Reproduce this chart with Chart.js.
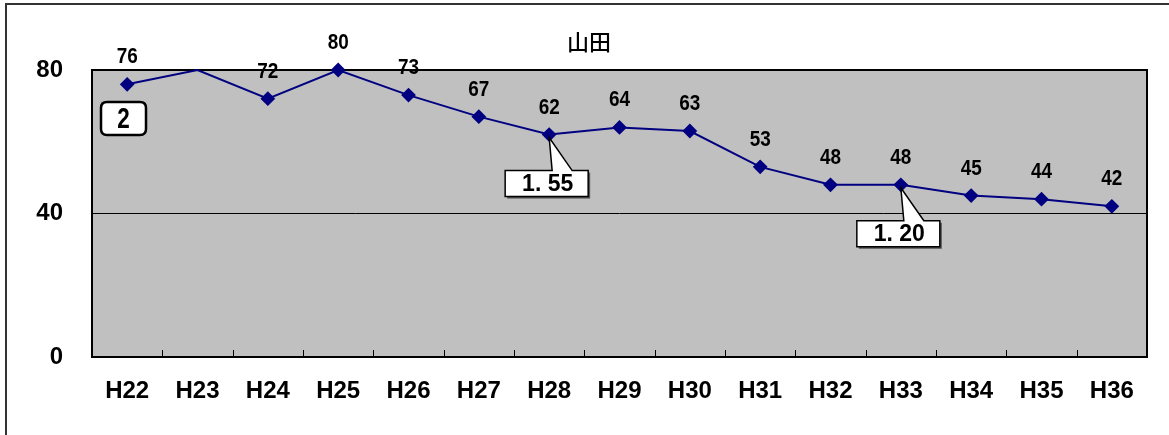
<!DOCTYPE html>
<html>
<head>
<meta charset="utf-8">
<script src="https://cdn.jsdelivr.net/npm/chart.js@4.4.1/dist/chart.umd.min.js"></script>
<style>
  html, body { margin: 0; padding: 0; background: #ffffff; }
  #wrap { position: relative; width: 1169px; height: 435px; }
  canvas { display: block; }
</style>
</head>
<body>
<div id="wrap"><canvas id="c" width="1169" height="435"></canvas></div>
<script>
// ---- data ----
const chartTitle = '山田';
const categories = ['H22','H23','H24','H25','H26','H27','H28','H29','H30','H31','H32','H33','H34','H35','H36'];
const values = [76, 80, 72, 80, 73, 67, 62, 64, 63, 53, 48, 48, 45, 44, 42];
const pointLabels = ['76','','72','80','73','67','62','64','63','53','48','48','45','44','42'];
const hiddenMarkers = [1];
const yTicks = [0, 40, 80];
const calloutIndex = [6, 11];
const calloutText = ['1. 55', '1. 20'];
const badgeText = '2';

const NAVY = '#000080';

function narrowText(ctx, text, x, y, sx) {
  ctx.save();
  ctx.translate(x, y);
  ctx.scale(sx, 1);
  ctx.fillText(text, 0, 0);
  ctx.restore();
}

const framePlugin = {
  id: 'frame',
  beforeDraw(chart) {
    const ctx = chart.ctx;
    const a = chart.chartArea;
    ctx.save();
    ctx.strokeStyle = '#333333';
    ctx.lineWidth = 2;
    ctx.beginPath();
    ctx.moveTo(6, 440);
    ctx.lineTo(6, 4);
    ctx.lineTo(1175, 4);
    ctx.stroke();
    ctx.fillStyle = '#C0C0C0';
    ctx.fillRect(a.left, a.top, a.right - a.left, a.bottom - a.top);
    ctx.restore();
  },
  beforeDatasetsDraw(chart) {
    const ctx = chart.ctx;
    const a = chart.chartArea;
    const xs = chart.scales.x;
    ctx.save();
    ctx.strokeStyle = '#000000';
    ctx.lineWidth = 2;
    ctx.strokeRect(a.left, a.top, a.right - a.left, a.bottom - a.top);
    ctx.lineWidth = 1;
    const step = xs.getPixelForValue(1) - xs.getPixelForValue(0);
    for (let i = 1; i < categories.length; i++) {
      const x = Math.round(xs.getPixelForValue(i) - step / 2) + 0.5;
      ctx.beginPath();
      ctx.moveTo(x, a.bottom);
      ctx.lineTo(x, a.bottom - 7);
      ctx.stroke();
    }
    ctx.restore();
  },
  afterDatasetsDraw(chart) {
    const ctx = chart.ctx;
    ctx.save();
    ctx.fillStyle = '#000000';
    ctx.textAlign = 'center';
    ctx.textBaseline = 'middle';
    ctx.font = '500 22px "Noto Sans CJK JP"';
    ctx.fillText(chartTitle, 589, 42);

    const meta = chart.getDatasetMeta(0);
    ctx.font = 'bold 22px "Liberation Sans", sans-serif';
    meta.data.forEach((pt, i) => {
      if (!pointLabels[i]) return;
      narrowText(ctx, pointLabels[i], pt.x, pt.y - 27, 0.86);
    });

    // badge
    const bx = 101, by = 102, bw = 45, bh = 33, r = 6;
    ctx.beginPath();
    ctx.moveTo(bx + r, by);
    ctx.lineTo(bx + bw - r, by);
    ctx.quadraticCurveTo(bx + bw, by, bx + bw, by + r);
    ctx.lineTo(bx + bw, by + bh - r);
    ctx.quadraticCurveTo(bx + bw, by + bh, bx + bw - r, by + bh);
    ctx.lineTo(bx + r, by + bh);
    ctx.quadraticCurveTo(bx, by + bh, bx, by + bh - r);
    ctx.lineTo(bx, by + r);
    ctx.quadraticCurveTo(bx, by, bx + r, by);
    ctx.closePath();
    ctx.fillStyle = '#ffffff';
    ctx.fill();
    ctx.lineWidth = 2.5;
    ctx.strokeStyle = '#000000';
    ctx.stroke();
    ctx.fillStyle = '#000000';
    ctx.font = 'bold 30px "Liberation Sans", sans-serif';
    narrowText(ctx, badgeText, bx + bw / 2, by + bh / 2 + 1, 0.75);

    // callouts
    calloutIndex.forEach((idx, k) => {
      const pt = meta.data[idx];
      const px = pt.x, py = pt.y + 3;
      const left = px - 44, top = py + 33, w = 83, h = 26;
      ctx.fillStyle = '#555555';
      ctx.fillRect(left + 2, top + 2, w, h);
      ctx.beginPath();
      ctx.moveTo(left, top);
      ctx.lineTo(px + 3, top);
      ctx.lineTo(px, py);
      ctx.lineTo(px + 23, top);
      ctx.lineTo(left + w, top);
      ctx.lineTo(left + w, top + h);
      ctx.lineTo(left, top + h);
      ctx.closePath();
      ctx.fillStyle = '#ffffff';
      ctx.fill();
      ctx.lineWidth = 1.5;
      ctx.strokeStyle = '#000000';
      ctx.stroke();
      ctx.fillStyle = '#000000';
      ctx.font = 'bold 23px "Liberation Sans", sans-serif';
      ctx.fillText(calloutText[k], left + w / 2 + 1, top + h / 2 + 1);
    });
    ctx.restore();
  }
};

new Chart(document.getElementById('c'), {
  type: 'line',
  data: {
    labels: categories,
    datasets: [{
      data: values,
      borderColor: NAVY,
      backgroundColor: NAVY,
      borderWidth: 2,
      pointStyle: 'rectRot',
      pointRadius: values.map((v, i) => hiddenMarkers.includes(i) ? 0 : 6),
      pointBackgroundColor: NAVY,
      pointBorderColor: NAVY,
      tension: 0,
      clip: false
    }]
  },
  options: {
    responsive: false,
    animation: false,
    events: [],
    layout: { padding: { top: 70, right: 22, left: 0, bottom: 0 } },
    plugins: { legend: { display: false }, tooltip: { enabled: false }, title: { display: false } },
    scales: {
      x: {
        offset: true,
        grid: { display: false, drawTicks: false },
        border: { display: false },
        ticks: {
          color: '#000000',
          padding: 20,
          font: { family: '"Liberation Sans"', size: 24, weight: 'bold' },
          maxRotation: 0, autoSkip: false
        },
        afterFit(scale) { scale.height = 78; }
      },
      y: {
        min: 0, max: 80,
        afterBuildTicks(scale) { scale.ticks = yTicks.map(v => ({ value: v })); },
        grid: { color: '#000000', lineWidth: 1, drawTicks: false },
        border: { display: false },
        ticks: {
          color: '#000000',
          padding: 29,
          font: { family: '"Liberation Sans"', size: 24, weight: 'bold' }
        },
        afterFit(scale) { scale.width = 92; }
      }
    }
  },
  plugins: [framePlugin]
});
</script>
</body>
</html>
